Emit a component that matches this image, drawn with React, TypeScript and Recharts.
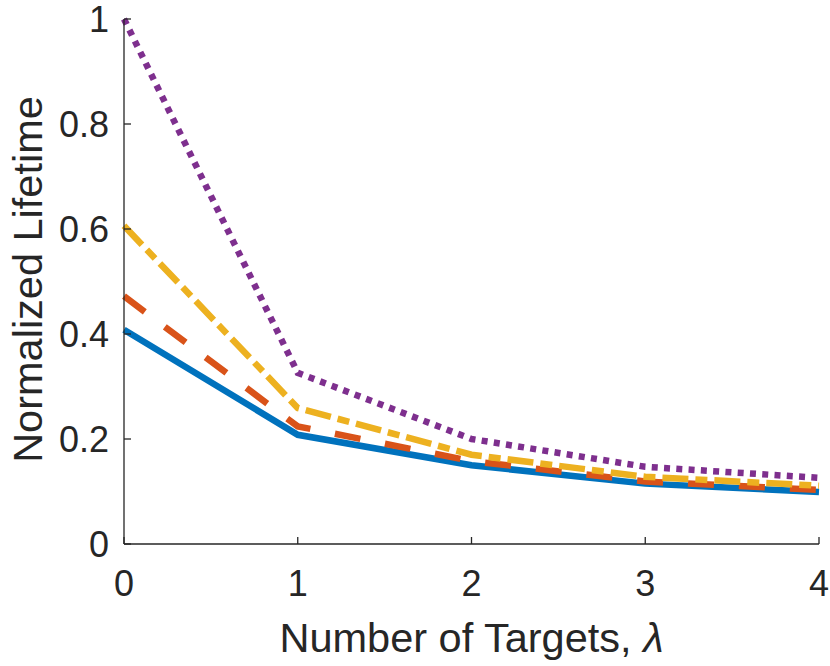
import { LineChart, Line, XAxis, YAxis } from "recharts"

// Normalized lifetime vs. number of targets (lambda), four schemes
const targets = [0, 1, 2, 3, 4]
const seriesBlue = [0.408, 0.208, 0.15, 0.115, 0.099]
const seriesRed = [0.472, 0.224, 0.158, 0.119, 0.103]
const seriesYellow = [0.606, 0.259, 0.17, 0.128, 0.111]
const seriesPurple = [1.0, 0.326, 0.2, 0.147, 0.126]
const xTicks = [0, 1, 2, 3, 4]
const yTicks = [0, 0.2, 0.4, 0.6, 0.8, 1]

const data = targets.map((t, i) => ({
  t,
  blue: seriesBlue[i],
  red: seriesRed[i],
  yellow: seriesYellow[i],
  purple: seriesPurple[i],
}))

const FONT = '"Liberation Sans", Arial, Helvetica, sans-serif'
const INK = "#262626"

function XTick({ x, y, payload }: any) {
  return (
    <g>
      <line x1={x} y1={y} x2={x} y2={y - 7} stroke={INK} strokeWidth={1.3} />
      <text x={x} y={y + 52} textAnchor="middle" fontSize={36} fontFamily={FONT} fill={INK}>
        {String(payload.value)}
      </text>
    </g>
  )
}

function YTick({ x, y, payload }: any) {
  return (
    <g>
      <line x1={x} y1={y} x2={x + 7} y2={y} stroke={INK} strokeWidth={1.3} />
      <text x={x - 15} y={y + 13} textAnchor="end" fontSize={36} fontFamily={FONT} fill={INK}>
        {String(payload.value)}
      </text>
    </g>
  )
}

function YLabel({ viewBox }: any) {
  const cy = viewBox.y + viewBox.height / 2 - 2
  return (
    <text
      x={42}
      y={cy}
      transform={`rotate(-90, 42, ${cy})`}
      textAnchor="middle"
      fontSize={41.5}
      fontFamily={FONT}
      fill={INK}
    >
      Normalized Lifetime
    </text>
  )
}

function XLabel({ viewBox }: any) {
  const cx = viewBox.x + viewBox.width / 2
  return (
    <text x={cx} y={652} textAnchor="middle" fontSize={41.5} fontFamily={FONT} fill={INK}>
      Number of Targets, <tspan fontStyle="italic">λ</tspan>
    </text>
  )
}

export default function App() {
  return (
    <div style={{ position: "absolute", left: 0, top: 0, background: "#fff" }}>
      <LineChart width={830} height={666} data={data} margin={{ top: 19, right: 11, bottom: 0, left: 0 }}>
        <XAxis
          dataKey="t"
          type="number"
          domain={[0, 4]}
          ticks={xTicks}
          height={122}
          tickSize={0}
          tickMargin={0}
          tick={<XTick />}
          axisLine={{ stroke: INK, strokeWidth: 1.3 }}
          label={<XLabel />}
        />
        <YAxis
          type="number"
          domain={[0, 1]}
          ticks={yTicks}
          width={124}
          tickSize={0}
          tickMargin={0}
          tick={<YTick />}
          axisLine={{ stroke: INK, strokeWidth: 1.3 }}
          label={<YLabel />}
        />
        <Line dataKey="blue" stroke="#0072BD" strokeWidth={6.5} dot={false} isAnimationActive={false} />
        <Line
          dataKey="red"
          stroke="#D95319"
          strokeWidth={6.5}
          strokeDasharray="26 25"
          dot={false}
          isAnimationActive={false}
        />
        <Line
          dataKey="yellow"
          stroke="#EDB120"
          strokeWidth={6.5}
          strokeDasharray="26 7 12 7"
          dot={false}
          isAnimationActive={false}
        />
        <Line
          dataKey="purple"
          stroke="#7E2F8E"
          strokeWidth={6.5}
          strokeDasharray="6 6.3"
          dot={false}
          isAnimationActive={false}
        />
      </LineChart>
    </div>
  )
}
